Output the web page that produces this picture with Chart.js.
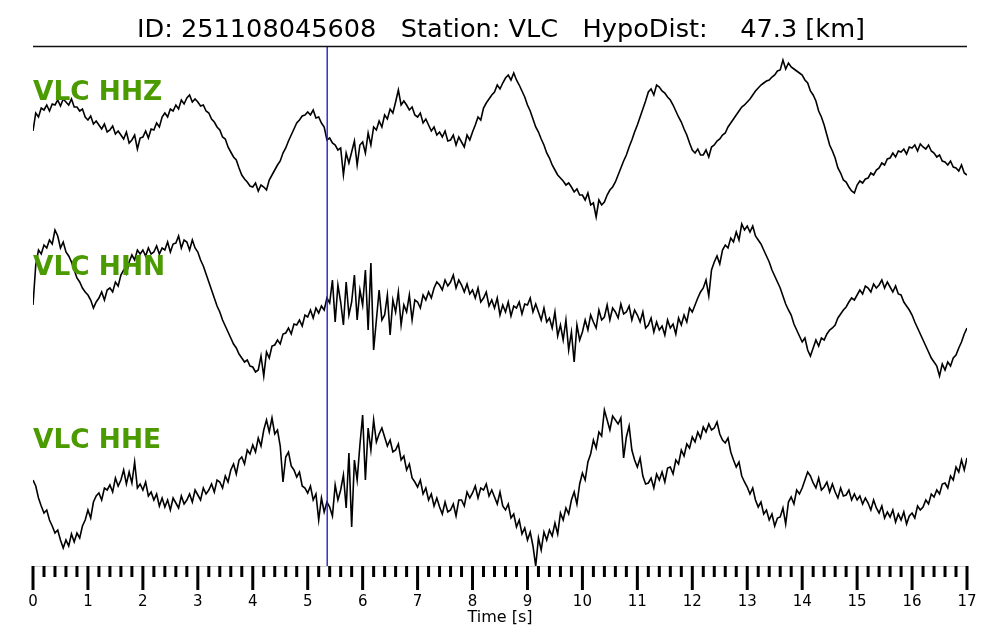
<!DOCTYPE html>
<html>
<head>
<meta charset="utf-8">
<script src="https://cdn.jsdelivr.net/npm/chart.js@4.4.1/dist/chart.umd.min.js"></script>
<style>
  body { margin: 0; background: #fff; }
</style>
</head>
<body>
<canvas id="seismo" width="1000" height="640"></canvas>
<script>
// event info
const eventId = '251108045608';
const station = 'VLC';
const hypoDist = 47.3;
const channels = ['VLC HHZ', 'VLC HHN', 'VLC HHE'];
const pickTime = 5.355;        // P pick, blue line
const sampleStep = 0.05;       // s between samples
const timeTicks = [0, 1, 2, 3, 4, 5, 6, 7, 8, 9, 10, 11, 12, 13, 14, 15, 16, 17];
const minorTickStep = 0.2;

// amplitudes (one line per second)
const hhz = [
  4, 22, 18, 27, 25, 30, 24, 31, 30, 35, 29, 36, 33, 30, 36, 28, 28, 24, 26, 18,
  15, 19, 11, 14, 10, 6, 11, 3, 5, 9, 1, 4, 0, -4, 3, -8, -5, 0, -14, -3,
  -2, 4, -3, 6, 5, 12, 8, 18, 22, 18, 26, 24, 30, 26, 35, 31, 37, 40, 33, 36,
  33, 29, 30, 24, 22, 16, 13, 8, 5, -2, -4, -12, -17, -22, -25, -33, -40, -44, -47, -51,
  -52, -48, -56, -50, -52, -55, -45, -40, -35, -30, -26, -18, -13, -6, 0, 6, 12, 15, 19, 20,
  23, 20, 25, 17, 18, 12, 8, -5, -3, -8, -10, -15, -13, -40, -18, -28, -17, -6, -30, -10,
  -7, -18, 2, -10, 8, 5, 14, 8, 20, 16, 26, 22, 33, 45, 30, 34, 30, 25, 28, 20,
  18, 22, 12, 16, 10, 4, 8, 0, 3, -2, 4, -6, -5, 0, -10, -2, -7, -12, 0, -5,
  3, 10, 18, 15, 27, 32, 36, 40, 43, 50, 46, 52, 57, 60, 55, 62, 55, 50, 44, 38,
  30, 24, 16, 8, 3, -4, -10, -18, -23, -30, -35, -40, -43, -46, -50, -48, -52, -57, -54, -60,
  -60, -65, -58, -70, -68, -82, -65, -70, -67, -60, -55, -52, -47, -40, -33, -26, -20, -12, -5, 3,
  10, 18, 26, 34, 43, 46, 40, 50, 48, 44, 42, 38, 35, 30, 24, 18, 13, 6, 0, -8,
  -15, -18, -14, -20, -20, -15, -22, -12, -10, -6, -4, 0, 2, 8, 12, 16, 20, 24, 28, 30,
  33, 36, 40, 44, 47, 50, 52, 54, 55, 58, 60, 64, 65, 75, 66, 72, 68, 66, 64, 62,
  60, 55, 52, 44, 40, 34, 24, 18, 10, 0, -10, -16, -23, -33, -38, -45, -47, -52, -56, -58,
  -50, -46, -48, -44, -43, -38, -40, -35, -33, -28, -30, -24, -23, -18, -22, -16, -17, -14, -19, -12,
  -13, -10, -16, -9, -12, -14, -10, -16, -18, -22, -20, -26, -27, -30, -26, -32, -33, -36, -30, -38,
  -40
];

const hhn = [
  -5, 35, 50, 46, 55, 52, 60, 56, 70, 64, 52, 58, 48, 44, 38, 30, 22, 18, 12, 8,
  5, 0, -8, -2, 2, 8, 0, 10, 12, 8, 18, 14, 25, 30, 26, 38, 45, 40, 50, 46,
  50, 44, 52, 46, 48, 54, 46, 52, 50, 58, 48, 56, 57, 64, 52, 60, 58, 50, 60, 52,
  48, 40, 34, 26, 18, 10, 2, -6, -12, -20, -26, -32, -38, -44, -48, -54, -58, -62, -60, -66,
  -67, -72, -70, -56, -76, -52, -58, -46, -45, -40, -44, -34, -33, -28, -34, -24, -25, -20, -26, -15,
  -17, -10, -18, -8, -13, -6, -10, 2, -3, 20, -22, 15, -2, -25, 18, -15, -2, 25, -20, 10,
  -5, 30, -30, 37, -50, -20, 10, -20, -15, 5, -35, 0, -12, 8, -25, -5, -12, 5, -20, 0,
  -2, -8, 5, 0, 8, 2, 12, 18, 15, 10, 20, 14, 18, 25, 12, 20, 15, 8, 16, 6,
  10, 2, 12, -2, 2, 8, -6, 0, -8, 2, -15, -5, -12, -2, -16, -6, -8, -2, -14, -4,
  -5, 2, -12, -4, -12, -20, -8, -22, -18, -28, -12, -36, -25, -40, -20, -50, -32, -62, -25, -40,
  -32, -20, -30, -15, -22, -28, -10, -20, -17, -5, -20, -8, -12, -18, -4, -14, -12, -6, -20, -10,
  -15, -22, -12, -28, -25, -18, -32, -22, -30, -26, -35, -20, -28, -24, -34, -18, -25, -15, -22, -8,
  -12, -5, 2, 8, 12, 20, 4, 30, 38, 44, 36, 50, 55, 52, 62, 58, 68, 60, 76, 70,
  74, 68, 74, 64, 60, 56, 50, 44, 38, 30, 24, 18, 12, 4, -4, -10, -15, -24, -30, -36,
  -42, -38, -50, -56, -48, -40, -46, -38, -40, -34, -30, -28, -25, -18, -14, -10, -7, -2, 2, 0,
  5, 10, 6, 14, 12, 8, 16, 12, 15, 20, 12, 18, 13, 8, 14, 6, 5, -2, -6, -10,
  -15, -22, -28, -34, -40, -46, -52, -58, -62, -66, -76, -64, -70, -62, -66, -58, -55, -48, -42, -34,
  -28
];

const hhe = [
  10, 4, -8, -16, -23, -20, -30, -36, -43, -40, -50, -58, -50, -56, -44, -52, -43, -48, -36, -30,
  -20, -28, -12, -6, -3, -10, 2, 0, 5, -2, 12, 4, 10, 20, 6, 18, 7, 28, 2, 6,
  0, 8, -6, -2, -10, -4, -16, -8, -17, -10, -20, -8, -13, -18, -6, -14, -10, -4, -12, 0,
  -5, -10, 2, -4, 0, 6, -2, 10, 8, 2, 14, 8, 20, 26, 16, 30, 33, 26, 40, 36,
  45, 38, 52, 44, 60, 70, 58, 72, 56, 60, 44, 8, 33, 38, 24, 20, 13, 18, 4, 2,
  -3, 4, -10, -4, -30, -8, -22, -12, -17, -26, 5, -10, 0, 15, -18, 37, -37, 30, 10, 45,
  75, 10, 62, 40, 70, 48, 56, 62, 53, 44, 50, 38, 40, 46, 30, 34, 20, 26, 12, 8,
  3, 10, -4, 2, -10, -4, -16, -8, -17, -24, -12, -22, -20, -14, -26, -10, -10, -16, -2, -8,
  -3, 4, -8, 2, 0, 6, -6, 0, -7, -14, -2, -16, -20, -14, -28, -24, -37, -30, -44, -38,
  -50, -42, -56, -76, -48, -60, -42, -50, -40, -46, -33, -44, -23, -30, -18, -24, -10, -2, -14, 6,
  17, 10, 28, 36, 50, 42, 58, 54, 80, 70, 60, 74, 70, 66, 72, 32, 53, 64, 40, 30,
  23, 32, 14, 6, 7, 12, 2, 16, 10, 18, 8, 22, 23, 16, 30, 26, 40, 34, 46, 42,
  53, 48, 58, 52, 63, 58, 66, 60, 62, 68, 56, 50, 47, 52, 38, 30, 23, 28, 14, 8,
  3, -4, 2, -10, -17, -12, -24, -20, -30, -24, -36, -28, -27, -18, -34, -12, -7, -14, 0, -4,
  2, 10, 18, 14, 7, 2, 12, 0, 3, 8, -2, 6, -2, -8, 2, -6, -5, 0, -10, -4,
  -10, -6, -14, -8, -13, -20, -10, -18, -23, -16, -28, -22, -27, -20, -32, -24, -30, -22, -34, -26,
  -23, -28, -16, -20, -17, -10, -14, -4, -7, 0, -4, 6, 7, 2, 14, 10, 23, 18, 30, 20,
  32
];

// vertical placement of each trace on the shared y scale (0..520)
const traceOffsets = [431, 266, 76];
const labelBaselines = [100, 275, 448];

function toPoints(arr, offset) {
  return arr.map((v, i) => ({ x: +(i * sampleStep).toFixed(2), y: offset + v }));
}

const traces = [hhz, hhn, hhe];

const datasets = [{
  data: [{ x: pickTime, y: 0 }, { x: pickTime, y: 520 }],
  borderColor: '#2424c8',
  borderWidth: 1.4,
  order: 0
}];
traces.forEach((tr, i) => {
  datasets.push({
    data: toPoints(tr, traceOffsets[i]),
    borderColor: '#000',
    borderWidth: 1.6,
    order: 1
  });
});

const decorations = {
  id: 'decorations',
  afterDraw(chart) {
    const ctx = chart.ctx;
    const area = chart.chartArea;
    const xs = chart.scales.x;
    ctx.save();

    // title
    ctx.fillStyle = '#000';
    ctx.font = '25.6px "DejaVu Sans"';
    ctx.textAlign = 'center';
    ctx.textBaseline = 'alphabetic';
    ctx.fillText('ID: ' + eventId + '   Station: ' + station + '   HypoDist:    ' + hypoDist.toFixed(1) + ' [km]', 501, 37);

    // top spine
    ctx.strokeStyle = '#111';
    ctx.lineWidth = 1.3;
    ctx.beginPath();
    ctx.moveTo(area.left, area.top + 0.5);
    ctx.lineTo(area.right, area.top + 0.5);
    ctx.stroke();

    // channel labels
    ctx.fillStyle = '#4a9a00';
    ctx.font = 'bold 26.4px "DejaVu Sans"';
    ctx.textAlign = 'left';
    channels.forEach((c, i) => ctx.fillText(c, area.left, labelBaselines[i]));

    // bottom axis
    ctx.strokeStyle = '#cccccc';
    ctx.lineWidth = 1;
    ctx.beginPath();
    ctx.moveTo(area.left, area.bottom + 0.5);
    ctx.lineTo(area.right, area.bottom + 0.5);
    ctx.stroke();

    ctx.strokeStyle = '#000';
    ctx.lineWidth = 3;
    const nMinor = Math.round(17 / minorTickStep);
    for (let i = 0; i <= nMinor; i++) {
      const t = i * minorTickStep;
      const px = xs.getPixelForValue(t);
      const major = i % 5 === 0;
      ctx.beginPath();
      ctx.moveTo(px, area.bottom);
      ctx.lineTo(px, area.bottom + (major ? 24 : 11));
      ctx.stroke();
    }

    ctx.fillStyle = '#000';
    ctx.font = '15px "DejaVu Sans"';
    ctx.textAlign = 'center';
    timeTicks.forEach(t => ctx.fillText(String(t), xs.getPixelForValue(t), 606));

    ctx.font = '16px "DejaVu Sans"';
    ctx.fillText('Time [s]', (area.left + area.right) / 2, 622);

    ctx.restore();
  }
};

new Chart(document.getElementById('seismo'), {
  type: 'line',
  data: { datasets: datasets },
  options: {
    responsive: false,
    animation: false,
    layout: { padding: { left: 33, right: 33, top: 46, bottom: 74 } },
    elements: { point: { radius: 0 }, line: { tension: 0 } },
    scales: {
      x: { type: 'linear', min: 0, max: 17, display: false },
      y: { min: 0, max: 520, display: false }
    },
    plugins: {
      legend: { display: false },
      tooltip: { enabled: false }
    }
  },
  plugins: [decorations]
});
</script>
</body>
</html>
